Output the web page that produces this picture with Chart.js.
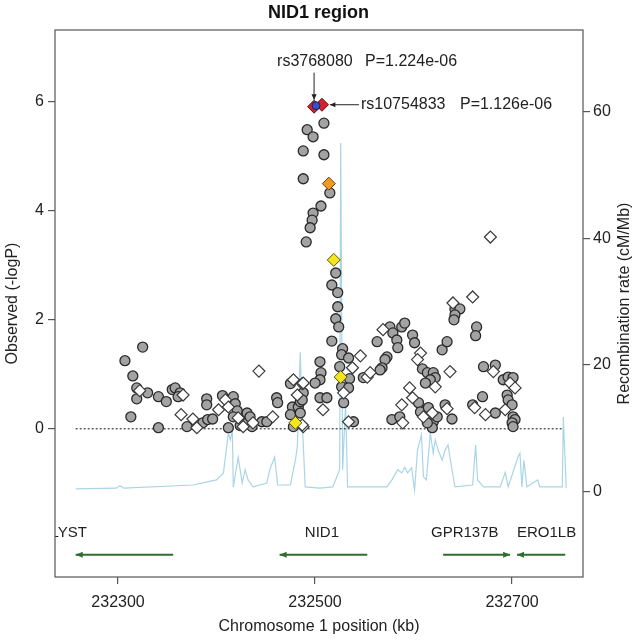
<!DOCTYPE html>
<html><head><meta charset="utf-8">
<script src="https://cdn.jsdelivr.net/npm/chart.js@4/dist/chart.umd.min.js"></script>
<style>html,body{margin:0;padding:0;background:#fff}#c{display:block}</style>
</head><body>
<canvas id="c" width="637" height="640"></canvas>
<script>
// ---------------- DATA ----------------
const chartTitle = 'NID1 region';
const xTitle = 'Chromosome 1 position (kb)';
const yTitle = 'Observed (-logP)';
const y2Title = 'Recombination rate (cM/Mb)';
const xTicks = [232300, 232500, 232700];
const yTicks = [0, 2, 4, 6];
const y2Ticks = [0, 20, 40, 60];

// grey circles (genotyped SNPs)
const circlePos = [232307,232325,232315,232319,232319,232313,232330,232341,232349,232355,232358,232363,232361,232341,232370,
 232390,232390,232386,232391,232396,232406,232417,232419,232421,232417,232426,232431,232432,232436,232434,232446,232451,
 232461,232462,232475,232477,232483,232485,232488,232478,232475,232485,232412,232424,
 232509,232492,232498,232488,232509,232488,232515,232506,232498,232497,232495,232491,232521,232517,232523,232523,232521,
 232524,232517,232528,232527,232534,232525,232535,232527,232534,232529,232505,232506,232505,232500,232505,232512,232539,
 232487,232549,
 232563,232576,232579,232583,232584,232588,232591,232573,232571,232568,232566,232599,232601,232609,232614,232620,232622,
 232617,232612,232578,232586,232605,232607,232615,232620,232619,232624,232614,232632,232639,232629,232634,232642,232647,
 232642,232641,232664,232663,232671,232683,232670,232660,232683,232691,232696,232701,232695,232696,232700,232701,232703,
 232700,232701];
const circleLogP = [1.25,1.50,0.97,0.75,0.55,0.22,0.66,0.59,0.50,0.72,0.75,0.66,0.59,0.02,0.04,
 0.55,0.44,0.11,0.17,0.18,0.61,0.59,0.46,0.33,0.22,0.17,0.29,0.13,0.04,0.22,0.13,0.13,
 0.57,0.48,0.83,0.40,0.40,0.50,0.66,0.04,0.26,0.29,0.02,0.06,
 5.61,5.49,5.36,5.10,5.03,4.59,4.33,4.09,3.96,3.83,3.69,3.43,2.86,2.64,2.50,2.24,2.02,
 1.87,1.61,1.47,1.36,1.30,1.14,0.92,0.77,0.75,0.48,1.23,1.03,0.90,0.84,0.57,0.57,0.13,
 0.53,0.94,
 1.60,1.87,1.76,1.63,1.49,1.87,1.94,1.32,1.27,1.12,1.08,1.72,1.58,1.10,1.03,1.03,0.94,
 0.90,0.84,0.17,0.22,0.48,0.31,0.39,0.13,0.02,0.22,0.11,0.44,0.18,1.45,1.60,2.20,2.20,
 2.09,2.00,1.87,1.71,1.14,1.17,0.59,0.44,0.29,0.90,0.95,0.94,0.62,0.53,0.44,0.22,0.17,
 0.11,0.04];

// white diamonds (imputed SNPs)
const diamondPos = [232322,232366,232364,232376,232380,232402,232409,232412,232422,232427,232437,232443,232457,232478,
 232487,232482,232488,232546,232538,232529,232508,232534,232488,232487,232553,232556,232569,232607,232604,232622,232596,
 232599,232588,232589,232610,232619,232634,232637,232640,232660,232681,232662,232673,232698,232703,232693,232678];
const diamondLogP = [0.70,0.62,0.26,0.18,0.02,0.35,0.53,0.40,0.20,0.04,0.11,1.06,0.22,0.90,
 0.83,0.62,0.04,1.34,1.12,0.66,0.35,0.13,0.84,0.07,0.95,1.03,1.82,1.39,1.27,0.77,0.75,
 0.57,0.44,0.11,0.22,0.29,0.37,1.05,2.31,2.42,1.05,0.39,0.26,0.84,0.75,0.35,3.52];

// highlighted SNPs
const redPos = [232499, 232507];
const redLogP = [5.912, 5.948];
const bluePos = [232501];
const blueLogP = [5.93];
const orangePos = [232514];
const orangeLogP = [4.50];
const yellowPos = [232519, 232526, 232480];
const yellowLogP = [3.10, 0.95, 0.11];

// annotated SNPs
const annotSnp = ['rs3768080', 'rs10754833'];
const annotP = ['1.224e-06', '1.126e-06'];
const annotPos = [232499, 232507];
const annotLogP = [5.912, 5.948];

// recombination rate (cM/Mb)
const recPos = [232257,232298,232302,232306,232376,232400,232407,232412,232414,232416,232417,232422,232426,232429,232432,
 232437,232451,232454,232459,232462,232475,232480,232482,232485,232487,232490,232505,232518,232525,232526,232528,232531,
 232533,232573,232578,232584,232588,232591,232594,232598,232601,232604,232608,232610,232613,232617,232620,232622,232625,
 232629,232632,232635,232639,232642,232660,232663,232665,232671,232688,232693,232696,232706,232708,232710,232712,232715,
 232721,232726,232728,232751,232752,232755];
const recRate = [0.5,0.6,1.0,0.6,1.1,1.9,3.0,9.3,8.2,9.8,0.8,5.5,1.4,3.5,1.9,
 0.8,1.4,3.5,5.5,1.1,1.1,5.0,7.1,22,11,0.8,0.6,0.8,3.5,55,3.5,14,
 0.8,0.8,1.9,3.5,3.0,3.9,3.0,3.8,0.3,6.6,9.0,2.4,1.9,9.3,6.1,8.2,6.6,
 5.0,6.6,7.4,3.5,0.8,1.1,7.4,1.9,0.8,0.8,3.1,0.8,5.5,6.1,0.8,5.0,0.8,
 1.4,1.9,0.8,0.8,11.8,0.6];

// reference line at -logP = 0
const zeroLinePos = [232257, 232752];
const zeroLineVal = [0, 0];

// genes
const geneNames = ['LYST', 'NID1', 'GPR137B', 'ERO1LB'];
const geneLabelPos = [232250, 232507, 232652, 232735];
const geneStart = [232257, 232464, 232630, 232705];
const geneEnd = [232356, 232553, 232698, 232754];
const geneStrand = [-1, -1, 1, -1];
const geneLabelY = -1.91;
const geneArrowY = -2.31;

// ---------------- CHART ----------------
const FONT = '"Liberation Sans", Arial, Helvetica, sans-serif';
const TXT = '#222';
const AX = '#555';
const GREEN = '#2e6e2e';
const pts = (xs, ys) => xs.map((v, i) => ({x: v, y: ys[i]}));

const overlay = {
  id: 'overlay',
  afterDatasetsDraw(chart) {
    const {ctx, chartArea: a, scales} = chart;
    const x = scales.x, y = scales.y;
    ctx.save();
    ctx.beginPath();
    ctx.rect(a.left, a.top, a.right - a.left, a.bottom - a.top);
    ctx.clip();
    // genes
    ctx.font = '15px ' + FONT;
    ctx.textAlign = 'center';
    ctx.textBaseline = 'middle';
    geneNames.forEach((g, i) => {
      const x1 = x.getPixelForValue(geneStart[i]);
      const x2 = x.getPixelForValue(geneEnd[i]);
      const yy = y.getPixelForValue(geneArrowY);
      ctx.fillStyle = TXT;
      ctx.fillText(g, x.getPixelForValue(geneLabelPos[i]), y.getPixelForValue(geneLabelY));
      ctx.strokeStyle = GREEN; ctx.fillStyle = GREEN; ctx.lineWidth = 2;
      ctx.beginPath(); ctx.moveTo(x1, yy); ctx.lineTo(x2, yy); ctx.stroke();
      const tip = geneStrand[i] < 0 ? x1 : x2;
      const d = geneStrand[i] < 0 ? 1 : -1;
      ctx.beginPath();
      ctx.moveTo(tip, yy);
      ctx.lineTo(tip + d * 7, yy - 3);
      ctx.lineTo(tip + d * 7, yy + 3);
      ctx.closePath(); ctx.fill();
    });
    ctx.restore();

    // annotations
    ctx.save();
    ctx.font = '16px ' + FONT;
    ctx.fillStyle = TXT; ctx.strokeStyle = '#222'; ctx.lineWidth = 1;
    ctx.textBaseline = 'middle'; ctx.textAlign = 'left';
    const arrow = (x1, y1, x2, y2) => {
      ctx.beginPath(); ctx.moveTo(x1, y1); ctx.lineTo(x2, y2); ctx.stroke();
      const ang = Math.atan2(y2 - y1, x2 - x1);
      ctx.beginPath();
      ctx.moveTo(x2, y2);
      ctx.lineTo(x2 - 6 * Math.cos(ang - 0.45), y2 - 6 * Math.sin(ang - 0.45));
      ctx.lineTo(x2 - 6 * Math.cos(ang + 0.45), y2 - 6 * Math.sin(ang + 0.45));
      ctx.closePath(); ctx.fill();
    };
    // first: label above, arrow down
    {
      const px = x.getPixelForValue(annotPos[0]), py = y.getPixelForValue(annotLogP[0]);
      arrow(px, py - 34, px, py - 7);
      ctx.fillText(annotSnp[0], px - 37, py - 45);
      ctx.fillText('P=' + annotP[0], px + 51, py - 45);
    }
    // second: label right, arrow left
    {
      const px = x.getPixelForValue(annotPos[1]), py = y.getPixelForValue(annotLogP[1]);
      arrow(px + 37, py, px + 8, py);
      ctx.fillText(annotSnp[1], px + 39, py);
      ctx.fillText('P=' + annotP[1], px + 138, py);
    }
    ctx.restore();

    // box
    ctx.save();
    ctx.strokeStyle = AX; ctx.lineWidth = 1.2;
    ctx.strokeRect(a.left, a.top, a.right - a.left, a.bottom - a.top);
    // right axis title
    ctx.font = '16px ' + FONT; ctx.fillStyle = TXT;
    ctx.textAlign = 'center'; ctx.textBaseline = 'middle';
    ctx.translate(625, (a.top + a.bottom) / 2);
    ctx.rotate(-Math.PI / 2);
    ctx.fillText(y2Title, 0, 0);
    ctx.restore();
  }
};

const tickGrid = {display: true, drawOnChartArea: false, drawTicks: true, tickLength: 7, color: AX, lineWidth: 1.2};

new Chart(document.getElementById('c'), {
  type: 'scatter',
  data: {
    datasets: [
      {label: 'red', data: pts(redPos, redLogP), yAxisID: 'y', pointStyle: 'rectRot', pointRadius: 6.5,
       backgroundColor: '#d8202a', borderColor: '#5a1010', borderWidth: 1, order: 1},
      {label: 'blue', data: pts(bluePos, blueLogP), yAxisID: 'y', pointStyle: 'circle', pointRadius: 4,
       backgroundColor: '#3b4fc0', borderColor: '#1a2060', borderWidth: 1, order: 0},
      {label: 'orange', data: pts(orangePos, orangeLogP), yAxisID: 'y', pointStyle: 'rectRot', pointRadius: 6.5,
       backgroundColor: '#f09a20', borderColor: '#6a4010', borderWidth: 1, order: 1},
      {label: 'yellow', data: pts(yellowPos, yellowLogP), yAxisID: 'y', pointStyle: 'rectRot', pointRadius: 6.5,
       backgroundColor: '#f3e61c', borderColor: '#5a5210', borderWidth: 1, order: 1},
      {label: 'circles', data: pts(circlePos, circleLogP), yAxisID: 'y', pointStyle: 'circle', pointRadius: 5,
       backgroundColor: '#a3a3a3', borderColor: '#2a2a2a', borderWidth: 1.3, order: 3},
      {label: 'diamonds', data: pts(diamondPos, diamondLogP), yAxisID: 'y', pointStyle: 'rectRot', pointRadius: 6,
       backgroundColor: '#ffffff', borderColor: '#3a3a3a', borderWidth: 1.2, order: 2},
      {label: 'zero', data: pts(zeroLinePos, zeroLineVal), yAxisID: 'y', showLine: true, pointRadius: 0,
       borderColor: '#111', borderWidth: 1, borderDash: [2, 2], order: 8},
      {label: 'recomb', data: pts(recPos, recRate), yAxisID: 'yR', showLine: true, pointRadius: 0,
       borderColor: '#a9d5e6', borderWidth: 1.2, tension: 0, order: 9}
    ]
  },
  options: {
    responsive: false, animation: false, devicePixelRatio: 1,
    layout: {padding: 0},
    plugins: {
      legend: {display: false}, tooltip: {enabled: false},
      title: {display: true, text: chartTitle, color: '#111',
        font: {family: FONT, size: 18, weight: 'bold'}, padding: {top: 2, bottom: 6.4}}
    },
    scales: {
      x: {type: 'linear', position: 'bottom', min: 232236, max: 232772,
        afterBuildTicks: s => { s.ticks = xTicks.map(v => ({value: v})); },
        afterFit: s => { s.height = 63; },
        ticks: {callback: v => String(v), color: TXT, font: {family: FONT, size: 16}, padding: 9, maxRotation: 0, autoSkip: false},
        grid: tickGrid, border: {display: false},
        title: {display: true, text: xTitle, color: TXT, font: {family: FONT, size: 16}, padding: {top: 0, bottom: 3.4}}
      },
      y: {type: 'linear', position: 'left', min: -2.72, max: 7.32,
        afterBuildTicks: s => { s.ticks = yTicks.map(v => ({value: v})); },
        afterFit: s => { s.width = 55; },
        ticks: {color: TXT, font: {family: FONT, size: 16}, padding: 4},
        grid: tickGrid, border: {display: false},
        title: {display: true, text: yTitle, color: TXT, font: {family: FONT, size: 16}, padding: {top: 3.4, bottom: 0}}
      },
      yR: {type: 'linear', position: 'right', min: -13.4, max: 72.8,
        afterBuildTicks: s => { s.ticks = y2Ticks.map(v => ({value: v})); },
        afterFit: s => { s.width = 54; },
        ticks: {color: TXT, font: {family: FONT, size: 16}, padding: 3},
        grid: tickGrid, border: {display: false},
        title: {display: false}
      }
    }
  },
  plugins: [overlay]
});
</script>
</body></html>
